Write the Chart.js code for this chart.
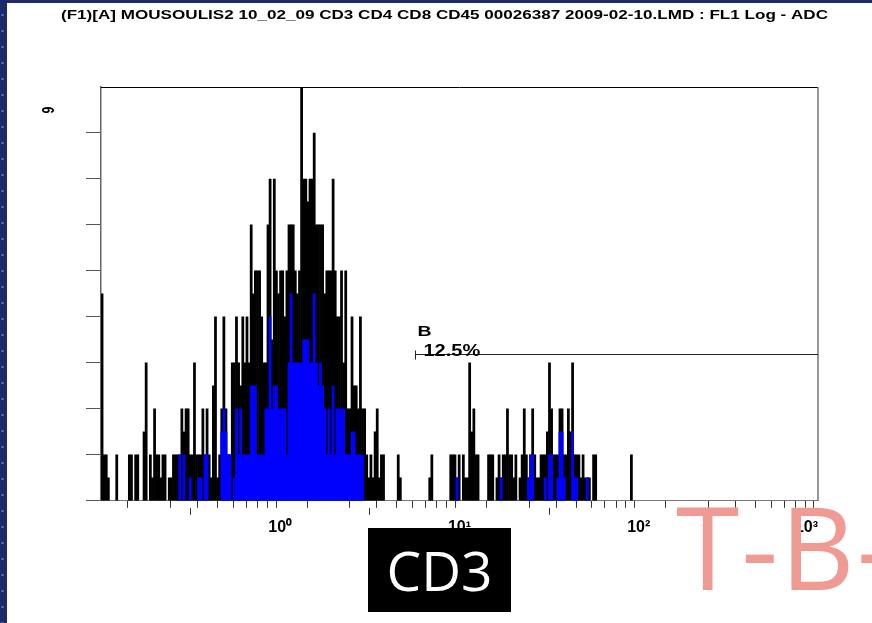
<!DOCTYPE html>
<html lang="en">
<head>
<meta charset="UTF-8">
<title>FL1 Log - ADC histogram</title>
<script src="https://cdn.jsdelivr.net/npm/chart.js@4.4.1/dist/chart.umd.min.js"></script>
<style>
    html, body {
        margin: 0;
        padding: 0;
        background: #fff;
        overflow: hidden;
    }
    body {
        position: relative;
        width: 872px;
        height: 623px;
        font-family: 'Liberation Sans', Arial, sans-serif;
    }
    #histo {
        position: absolute;
        left: 0;
        top: 0;
    }
    .edge-left {
        position: absolute;
        left: 0;
        top: 0;
        width: 7px;
        height: 623px;
        background-color: #1c2a6b;
        background-image: radial-gradient(circle, #5b7fd6 0.9px, transparent 1.3px);
        background-size: 7px 16px;
        background-position: -1px 7px;
    }
    .edge-top {
        position: absolute;
        left: 0;
        top: 0;
        width: 872px;
        height: 3px;
        background: #1c2a6b;
    }
    .marker {
        position: absolute;
        left: 368px;
        top: 528px;
        width: 143px;
        height: 84px;
        background: #000;
        color: #fff;
        font-family: 'Open Sans', sans-serif;
        font-size: 55px;
        line-height: 84px;
        text-align: center;
    }
    .note {
        position: absolute;
        left: 676px;
        top: 488px;
        font-family: 'Open Sans', sans-serif;
        font-weight: 500;
        font-size: 115px;
        line-height: 115px;
        color: #ef9a92;
        white-space: nowrap;
        letter-spacing: 2px;
    }
</style>
</head>
<body>
    <canvas id="histo" width="872" height="623"></canvas>
    <div class="edge-left"></div>
    <div class="edge-top"></div>
    <div class="marker">CD3</div>
    <div class="note">T-B-</div>

<script>
    // FL1 log histogram: 1024 channels over 4 decades, shown in bins of 3 channels
    const binWidth = 3;

    // all events (black)
    const allEvents = [
        4.5, 1, 1, 0.5, 0, 0, 0, 1, 0, 0,
        0, 0, 0, 1, 1, 0, 1, 1, 0, 0,
        1.5, 3, 0, 1, 0.5, 2, 1, 1, 0.5, 1,
        1, 0, 0.5, 0.5, 1, 1, 1, 1, 2, 1.5,
        2, 2, 1, 1, 3, 1, 1, 1, 2, 1,
        2, 1, 0.5, 2.5, 4, 0.5, 1, 2, 4, 2,
        1, 1, 3, 3, 4, 3, 2.5, 4, 3, 4,
        3, 6, 4.5, 5, 5, 5, 4, 3, 3, 6,
        7, 3.5, 7, 5, 4.5, 5, 5, 4, 5, 6,
        6, 6, 5, 4.5, 5, 9, 7, 7, 6.5, 7,
        7, 8, 6, 6, 6, 6, 4.5, 5, 5, 5,
        7, 5, 4, 4, 5, 3, 5, 2, 2, 4,
        2.5, 2.5, 2, 4, 2, 2, 1, 0.5, 1, 0.5,
        1.5, 2, 0.5, 1, 1, 0, 0, 0, 0, 0,
        0, 1, 0.5, 0, 0, 0, 0, 0, 0, 0,
        0, 0, 0, 0, 0, 0, 0.5, 1, 0, 0,
        0, 0, 0, 0, 0, 0, 1, 1, 1, 0.5,
        1, 0, 1, 0.5, 0.5, 3, 1.5, 2, 1, 1,
        0, 0, 0, 0, 1, 1, 1, 0, 0.5, 1,
        0.5, 1, 1, 2, 1, 1, 0.5, 1, 0, 0.5,
        1, 2, 1, 0.5, 1, 2, 1, 0.5, 0.5, 1,
        1, 1, 1.5, 3, 2, 1, 1, 1, 2, 2,
        1, 1, 2, 1.5, 3, 1, 1, 1, 0.5, 1,
        0.5, 0.5, 0.5, 0, 1, 1, 0, 0, 0, 0,
        0, 0, 0, 0, 0, 0, 0, 0, 0, 0,
        0, 0, 1
    ];

    // gated events (blue overlay)
    const gatedEvents = [
        0, 0, 0, 0, 0, 0, 0, 0, 0, 0,
        0, 0, 0, 0, 0, 0, 0, 0, 0, 0,
        0, 0, 0, 0, 0, 0, 0, 0, 0, 0,
        0, 0, 0, 0, 0, 0, 0, 1, 0, 1,
        0, 0, 0.5, 0, 0, 0, 0.5, 0.5, 0, 1,
        1, 0, 0, 0, 0, 0, 0, 1.5, 2, 1.5,
        1, 1, 0, 0.5, 2, 1, 2, 1, 1, 1,
        1, 2.5, 2.5, 2.5, 1, 1, 1, 1, 2, 2,
        4, 2, 2.5, 2.5, 2, 2, 2, 2, 1, 3,
        4.5, 3, 3, 3, 3, 3, 3.5, 3.5, 3.5, 3,
        3, 4.5, 3, 2.5, 3, 2.5, 2, 1, 2, 1,
        2.5, 1, 2, 2, 2, 2, 1, 1, 1, 1.5,
        1.5, 1, 1, 1, 1, 0, 0, 0, 0, 0,
        0, 0, 0, 0, 0, 0, 0, 0, 0, 0,
        0, 0, 0, 0, 0, 0, 0, 0, 0, 0,
        0, 0, 0, 0, 0, 0, 0, 0, 0, 0,
        0, 0, 0, 0, 0, 0, 0, 0, 0, 0.5,
        0, 0, 0, 0, 0, 0, 0, 0, 0, 0,
        0, 0, 0, 0, 0, 0, 0, 0, 0, 0,
        0.5, 0, 0, 0, 0, 0, 0, 0, 0, 0,
        0, 0, 0, 0.5, 1, 1, 0, 0, 0, 0,
        0, 0.5, 0, 1, 1, 0, 0, 0.5, 1.5, 1.5,
        0.5, 0, 0, 0, 1.5, 0.5, 0.5, 0, 0, 0,
        0, 0.5
    ];

    const channelsPerDecade = 256;
    const decades = [-1, 0, 1, 2, 3];
    const decadeLabels = ['', '10\u2070', '10\u00b9', '10\u00b2', '10\u00b3'];
    const yMax = 9;
    const yMaxLabel = '9';

    // region B
    const gateStart = 448;
    const gateLevel = 3.2;
    const gateName = 'B';
    const gatePercent = '12.5%';

    const titleText = '(F1)[A] MOUSOULIS2 10_02_09 CD3 CD4 CD8 CD45 00026387 2009-02-10.LMD : FL1 Log - ADC';

    const fontFamily = "'Liberation Sans', Arial, sans-serif";

    function toPoints(counts) {
        const pts = [];
        counts.forEach((c, i) => {
            if (c > 0) pts.push({ x: i * binWidth + binWidth / 2, y: c });
        });
        return pts;
    }

    function channelOf(exp) {
        return (exp + 1) * channelsPerDecade;
    }

    // 1..9 in each decade, plus the last decade mark
    const minorTicks = [];
    for (let d = -1; d < 3; d++) {
        for (let k = 1; k < 10; k++) minorTicks.push(channelOf(d + Math.log10(k)));
    }
    minorTicks.push(channelOf(3));

    function stretchText(ctx, text, x, y, font, sx, align) {
        ctx.save();
        ctx.font = font;
        ctx.textAlign = align || 'left';
        ctx.textBaseline = 'alphabetic';
        ctx.fillStyle = '#000';
        ctx.translate(x, y);
        ctx.scale(sx, 1);
        ctx.fillText(text, 0, 0);
        ctx.restore();
    }

    const overlay = {
        id: 'overlay',
        afterDraw(chart) {
            const { ctx, chartArea: a, scales } = chart;
            ctx.save();

            // top and right edges of the plot frame
            ctx.strokeStyle = '#000';
            ctx.lineWidth = 1;
            ctx.beginPath();
            ctx.moveTo(a.left, a.top + 0.5);
            ctx.lineTo(a.right, a.top + 0.5);
            ctx.stroke();
            ctx.strokeStyle = '#777';
            ctx.lineWidth = 1.5;
            ctx.beginPath();
            ctx.moveTo(a.right, a.top);
            ctx.lineTo(a.right, a.bottom);
            ctx.stroke();

            // gate B
            const gx = Math.round(scales.x.getPixelForValue(gateStart)) + 0.5;
            const gxEnd = scales.x.getPixelForValue(channelOf(3));
            const gy = Math.round(scales.y.getPixelForValue(gateLevel)) + 0.5;
            ctx.strokeStyle = '#222';
            ctx.lineWidth = 1;
            ctx.beginPath();
            ctx.moveTo(gx, gy);
            ctx.lineTo(gxEnd, gy);
            ctx.moveTo(gx, gy - 4);
            ctx.lineTo(gx, gy + 5);
            ctx.stroke();
            stretchText(ctx, gateName, gx + 2, gy - 19, 'bold 15px ' + fontFamily, 1.3);
            stretchText(ctx, gatePercent, gx + 8, gy + 1, 'bold 16px ' + fontFamily, 1.25);

            // title
            ctx.font = 'bold 13px ' + fontFamily;
            const sx = 767 / ctx.measureText(titleText).width;
            stretchText(ctx, titleText, 444.5, 19, 'bold 13px ' + fontFamily, sx, 'center');

            // max count, rotated
            ctx.save();
            ctx.translate(50, 110);
            ctx.rotate(-Math.PI / 2);
            ctx.scale(0.95, 1.25);
            ctx.font = 'bold 13px ' + fontFamily;
            ctx.textAlign = 'center';
            ctx.textBaseline = 'middle';
            ctx.fillStyle = '#000';
            ctx.fillText(yMaxLabel, 0, 0);
            ctx.restore();

            ctx.restore();
        }
    };

    const ctx = document.getElementById('histo').getContext('2d');
    new Chart(ctx, {
        type: 'bar',
        data: {
            datasets: [
                {
                    label: 'Gated',
                    data: toPoints(gatedEvents),
                    backgroundColor: '#0000ff',
                    borderWidth: 0,
                    grouped: false,
                    barPercentage: 1,
                    categoryPercentage: 1,
                    order: 1
                },
                {
                    label: 'All events',
                    data: toPoints(allEvents),
                    backgroundColor: '#000000',
                    borderWidth: 0,
                    grouped: false,
                    barPercentage: 1,
                    categoryPercentage: 1,
                    order: 2
                }
            ]
        },
        options: {
            responsive: false,
            animation: false,
            layout: {
                padding: { left: 86, right: 54, top: 87, bottom: 83 }
            },
            plugins: {
                legend: { display: false },
                tooltip: { enabled: false }
            },
            scales: {
                x: {
                    type: 'linear',
                    position: 'bottom',
                    weight: 0,
                    min: 0,
                    max: channelOf(3),
                    offset: false,
                    afterBuildTicks: (scale) => {
                        scale.ticks = minorTicks.map((v) => ({ value: v }));
                    },
                    ticks: { display: false },
                    grid: {
                        drawOnChartArea: false,
                        tickLength: 7,
                        tickColor: '#333'
                    },
                    border: { color: '#777', width: 1 }
                },
                xMajor: {
                    type: 'linear',
                    position: 'bottom',
                    weight: 1,
                    min: 0,
                    max: channelOf(3),
                    offset: false,
                    afterBuildTicks: (scale) => {
                        scale.ticks = decades.map((d) => ({ value: channelOf(d) }));
                    },
                    ticks: {
                        autoSkip: false,
                        maxRotation: 0,
                        align: 'inner',
                        padding: 3,
                        color: '#000',
                        font: { family: fontFamily, size: 16, weight: 'bold' },
                        callback: (value, index) => decadeLabels[index]
                    },
                    grid: {
                        drawOnChartArea: false,
                        tickLength: 7,
                        tickColor: '#333'
                    },
                    border: { display: false }
                },
                y: {
                    min: 0,
                    max: yMax,
                    afterBuildTicks: (scale) => {
                        scale.ticks = scale.ticks.filter((t) => t.value < yMax);
                    },
                    ticks: { display: false, stepSize: 1 },
                    grid: {
                        drawOnChartArea: false,
                        tickLength: 15,
                        tickColor: '#555'
                    },
                    border: { color: '#666', width: 1.5 }
                }
            }
        },
        plugins: [overlay]
    });
</script>
</body>
</html>
